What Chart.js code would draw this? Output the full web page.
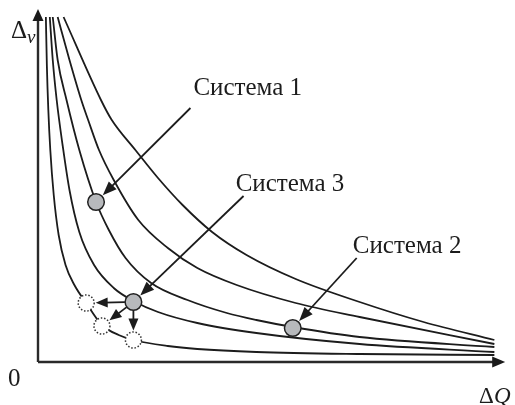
<!DOCTYPE html>
<html>
<head>
<meta charset="utf-8">
<script src="https://cdn.jsdelivr.net/npm/chart.js@4.4.1/dist/chart.umd.min.js"></script>
<style>
  html, body { margin: 0; background: #fff; }
  canvas { display: block; }
</style>
</head>
<body>
<canvas id="chart" width="515" height="405"></canvas>
<script>
// Iso-curves (innermost c1 .. outermost c5)
var c1X = [8, 9, 10.5, 12.5, 16, 21, 28, 37, 49, 65, 82, 97, 132, 162, 222, 327, 464];
var c1Y = [345, 297, 252, 212, 167, 127, 97, 77, 59, 37, 27, 22, 16, 13, 10, 8, 7];
var c2X = [12, 15, 19, 25, 32, 42, 57, 77, 97, 122, 162, 222, 327, 464];
var c2Y = [345, 302, 262, 217, 172, 130, 97, 74, 61, 50, 39, 29, 18, 10];
var c3X = [15, 20, 29, 42, 59, 72, 89, 115, 152, 192, 222, 259, 327, 464];
var c3Y = [345, 302, 262, 212, 160, 132, 104, 79, 62, 49, 42, 35, 25, 15];
var c4X = [20, 32, 44, 51, 62, 77, 102, 132, 162, 202, 262, 327, 464];
var c4Y = [345, 302, 262, 242, 212, 182, 142, 114, 94, 77, 59, 45, 18];
var c5X = [26, 64, 75, 99, 122, 147, 177, 212, 262, 327, 392, 464];
var c5Y = [345, 262, 242, 212, 184, 157, 130, 107, 83, 60, 40, 22];

// Systems (grey dots) and the moved positions of system 3 (dotted circles)
var systemNames = ['Система 1', 'Система 2', 'Система 3'];
var systemX = [59, 259, 97];
var systemY = [160, 34, 60];
var movedX = [49, 65, 97];
var movedY = [59, 36, 22];

var xLabel = 'Q';
var yLabel = 'v';
var originLabel = '0';

function pts(xs, ys) {
    return xs.map(function (x, i) { return { x: x, y: ys[i] }; });
}

var curveStyle = {
    borderColor: '#1c1c1c',
    borderWidth: 1.8,
    pointRadius: 0,
    fill: false,
    cubicInterpolationMode: 'monotone',
    order: 1
};

var serif = '"Liberation Serif", "DejaVu Serif", serif';
var ink = '#1c1c1c';

function arrow(ctx, x1, y1, x2, y2, len, half) {
    var a = Math.atan2(y2 - y1, x2 - x1);
    var c = Math.cos(a), s = Math.sin(a);
    ctx.beginPath();
    ctx.moveTo(x1, y1);
    ctx.lineTo(x2 - c * len * 0.7, y2 - s * len * 0.7);
    ctx.stroke();
    ctx.beginPath();
    ctx.moveTo(x2, y2);
    ctx.lineTo(x2 - c * len - s * half, y2 - s * len + c * half);
    ctx.lineTo(x2 - c * len + s * half, y2 - s * len - c * half);
    ctx.closePath();
    ctx.fill();
}

// arrow from (x1,y1) that stops at the rim of a circle at (cx,cy)
function arrowTo(ctx, x1, y1, cx, cy, r, len, half) {
    var d = Math.hypot(cx - x1, cy - y1);
    var ex = cx - (cx - x1) / d * r, ey = cy - (cy - y1) / d * r;
    arrow(ctx, x1, y1, ex, ey, len, half);
}

var decor = {
    id: 'decor',
    beforeDatasetsDraw: function (chart) {
        var ctx = chart.ctx, xs = chart.scales.x, ys = chart.scales.y;
        var ox = xs.getPixelForValue(0), oy = ys.getPixelForValue(0);
        var ca = chart.chartArea;
        ctx.save();
        ctx.strokeStyle = '#2a2a2a';
        ctx.fillStyle = '#1a1a1a';
        ctx.lineWidth = 2.4;
        ctx.beginPath();
        ctx.moveTo(ox, oy);
        ctx.lineTo(ox, ca.top + 8);
        ctx.moveTo(ox, oy);
        ctx.lineTo(ca.right - 8, oy);
        ctx.stroke();
        // arrow heads
        ctx.beginPath();
        ctx.moveTo(ox, ca.top - 1);
        ctx.lineTo(ox - 5.5, ca.top + 11);
        ctx.lineTo(ox + 5.5, ca.top + 11);
        ctx.closePath();
        ctx.fill();
        ctx.beginPath();
        ctx.moveTo(ca.right, oy);
        ctx.lineTo(ca.right - 13, oy - 5.5);
        ctx.lineTo(ca.right - 13, oy + 5.5);
        ctx.closePath();
        ctx.fill();

        // axis texts
        ctx.fillStyle = ink;
        ctx.textBaseline = 'alphabetic';
        ctx.font = '25px ' + serif;
        ctx.fillText('Δ', 11, 38);
        ctx.fillText(originLabel, 8, 386);
        ctx.font = 'italic 19px ' + serif;
        ctx.fillText(yLabel, 27, 43);
        ctx.font = '23px ' + serif;
        ctx.fillText('Δ', 479, 403);
        ctx.font = 'italic 23px ' + serif;
        ctx.fillText(xLabel, 494, 403);
        ctx.restore();
    },
    afterDatasetsDraw: function (chart) {
        var ctx = chart.ctx, xs = chart.scales.x, ys = chart.scales.y;
        var px = function (v) { return xs.getPixelForValue(v); };
        var py = function (v) { return ys.getPixelForValue(v); };
        ctx.save();

        // dotted circles
        ctx.lineWidth = 1.5;
        ctx.strokeStyle = '#333';
        ctx.setLineDash([1.5, 1.8]);
        for (var i = 0; i < movedX.length; i++) {
            ctx.beginPath();
            ctx.arc(px(movedX[i]), py(movedY[i]), 8, 0, Math.PI * 2);
            ctx.fillStyle = '#fff';
            ctx.fill();
            ctx.stroke();
        }
        ctx.setLineDash([]);

        // arrows from system 3 to the moved positions
        ctx.strokeStyle = ink;
        ctx.fillStyle = ink;
        ctx.lineWidth = 1.8;
        var sx = px(systemX[2]), sy = py(systemY[2]);
        for (var j = 0; j < movedX.length; j++) {
            var mx = px(movedX[j]), my = py(movedY[j]);
            var d = Math.hypot(mx - sx, my - sy);
            arrowTo(ctx, sx + (mx - sx) / d * 8.5, sy + (my - sy) / d * 8.5, mx, my, 9.5, 12, 5);
        }

        // label texts and their arrows
        var labels = [
            { i: 0, tx: 158, ty: 267, ax: 155, ay: 254 },
            { i: 1, tx: 320, ty: 109, ax: 324, ay: 104 },
            { i: 2, tx: 201, ty: 171, ax: 209, ay: 166 }
        ];
        ctx.font = '25px ' + serif;
        ctx.textBaseline = 'alphabetic';
        labels.forEach(function (l) {
            ctx.fillText(systemNames[l.i], px(l.tx), py(l.ty));
            arrowTo(ctx, px(l.ax), py(l.ay), px(systemX[l.i]), py(systemY[l.i]), 9.5, 14, 5.5);
        });
        ctx.restore();
    }
};

new Chart(document.getElementById('chart'), {
    type: 'line',
    data: {
        datasets: [
            {
                type: 'scatter',
                data: pts(systemX, systemY),
                pointRadius: 8.3,
                pointBackgroundColor: '#b7b9bc',
                pointBorderColor: '#222',
                pointBorderWidth: 1.5,
                showLine: false,
                order: 0
            },
            Object.assign({ data: pts(c1X, c1Y) }, curveStyle),
            Object.assign({ data: pts(c2X, c2Y) }, curveStyle),
            Object.assign({ data: pts(c3X, c3Y) }, curveStyle),
            Object.assign({ data: pts(c4X, c4Y) }, curveStyle),
            Object.assign({ data: pts(c5X, c5Y) }, curveStyle)
        ]
    },
    options: {
        responsive: false,
        animation: false,
        layout: { padding: { left: 38, right: 2, top: 10, bottom: 43 } },
        plugins: { legend: { display: false }, tooltip: { enabled: false } },
        scales: {
            x: { type: 'linear', min: 0, max: 475, display: false },
            y: { min: 0, max: 352, display: false }
        }
    },
    plugins: [decor]
});
</script>
</body>
</html>
